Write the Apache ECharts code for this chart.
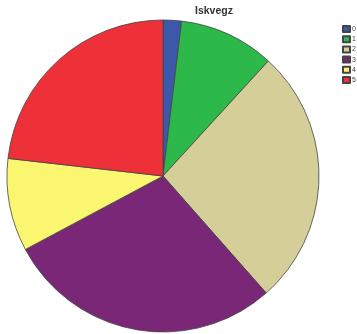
<!DOCTYPE html>
<html><head><meta charset="utf-8">
<script src="https://cdn.jsdelivr.net/npm/echarts@6/dist/echarts.min.js"></script>
<style>html,body{margin:0;padding:0;background:#fff}#c{width:357px;height:334px}</style>
</head><body><div id="c"></div>
<script>
const categories = ['0', '1', '2', '3', '4', '5'];
const values = [1.9, 9.9, 26.7, 28.7, 9.6, 23.2];
const colors = ['#3c58aa', '#2db84a', '#d4cf99', '#7a2778', '#fbf66f', '#ee3039'];
const titleText = 'Iskvegz';

const chart = echarts.init(document.getElementById('c'), null, {renderer: 'canvas'});
chart.setOption({
  animation: false,
  title: {text: titleText, left: 195, top: 6, padding: 0, textStyle: {fontFamily: 'Liberation Sans', fontSize: 10.5, fontWeight: 'bold', color: '#333'}},
  legend: {
    orient: 'vertical', left: 342, top: 25, padding: 0, itemWidth: 7, itemHeight: 6, itemGap: 2.2,
    icon: 'rect',
    textStyle: {fontFamily: 'Liberation Sans', fontSize: 7, color: '#444', padding: [0,0,0,-3]},
    data: categories
  },
  series: [{
    type: 'pie', center: [163, 176], radius: 156, startAngle: 90, clockwise: true,
    label: {show: false}, labelLine: {show: false},
    itemStyle: {borderColor: '#444', borderWidth: 0.8},
    emphasis: {disabled: true},
    data: categories.map((c, i) => ({name: c, value: values[i], itemStyle: {color: colors[i]}}))
  }]
});
</script></body></html>
